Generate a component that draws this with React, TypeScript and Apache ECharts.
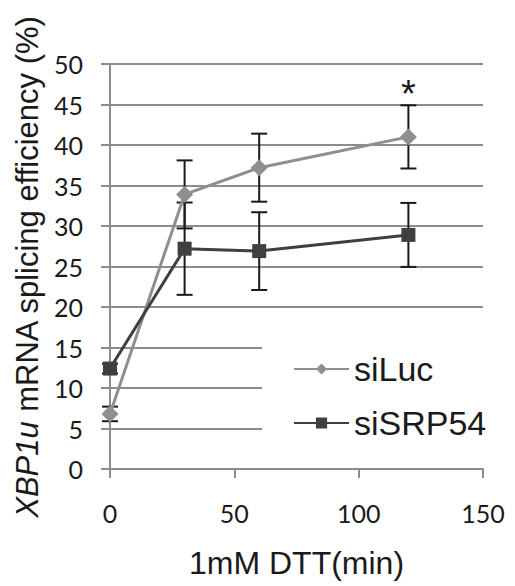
import React, { useEffect, useRef } from "react";
import * as echarts from "echarts";

const timesMin = [0, 30, 60, 120];
const siLucMean = [6.8, 33.9, 37.2, 41.0];
const siLucErr = [0.9, 4.2, 4.2, 3.9];
const siSRPMean = [12.4, 27.2, 26.9, 28.9];
const siSRPErr = [0.6, 5.7, 4.8, 3.95];
const yTicks = [0, 50, 5];
const xTicks = [0, 150, 50];

const AX = "#8c8c8c";
const LUC = "#8f8f8f";
const SRP = "#3f3f3f";

function errSeries(mean: number[], err: number[], name: string) {
  const data = timesMin.map((t, i) => [t, mean[i] - err[i], mean[i] + err[i]]);
  return {
    type: "custom",
    name: name + "_err",
    z: 3,
    silent: true,
    renderItem: (params: any, api: any) => {
      const x = api.value(0);
      const lo = api.coord([x, api.value(1)]);
      const hi = api.coord([x, api.value(2)]);
      const w = 8;
      const st = { stroke: "#1a1a1a", lineWidth: 2 };
      return {
        type: "group",
        children: [
          { type: "line", shape: { x1: lo[0], y1: lo[1], x2: hi[0], y2: hi[1] }, style: st },
          { type: "line", shape: { x1: lo[0] - w, y1: lo[1], x2: lo[0] + w, y2: lo[1] }, style: st },
          { type: "line", shape: { x1: hi[0] - w, y1: hi[1], x2: hi[0] + w, y2: hi[1] }, style: st },
        ],
      };
    },
    encode: { x: 0, y: [1, 2] },
    data,
  };
}

export default function App() {
  const ref = useRef<HTMLDivElement>(null);
  useEffect(() => {
    if (!ref.current) return;
    const chart = echarts.init(ref.current, undefined, { renderer: "svg" });
    chart.setOption({
      animation: false,
      backgroundColor: "#fff",
      grid: { left: 110, right: 32, top: 64, bottom: 117, containLabel: false, outerBoundsMode: "none" },
      xAxis: {
        type: "value",
        min: xTicks[0],
        max: xTicks[1],
        interval: xTicks[2],
        name: "1mM DTT(min)",
        nameLocation: "middle",
        nameGap: 78,
        nameTextStyle: { fontFamily: "Liberation Sans", fontSize: 32, color: "#1a1a1a" },
        axisLine: { show: true, lineStyle: { color: AX, width: 2 } },
        axisTick: { show: true, length: 9, lineStyle: { color: AX, width: 2 } },
        axisLabel: { fontFamily: "Lato", fontSize: 25, color: "#1a1a1a", margin: 31 },
        splitLine: { show: false },
      },
      yAxis: {
        type: "value",
        min: yTicks[0],
        max: yTicks[1],
        interval: yTicks[2],
        name: "{i|XBP1u} mRNA splicing efficiency (%)",
        nameLocation: "middle",
        nameGap: 66,
        nameRotate: 90,
        nameTextStyle: {
          fontFamily: "Liberation Sans",
          fontSize: 31,
          color: "#1a1a1a",
          rich: { i: { fontFamily: "Liberation Sans", fontSize: 31, fontStyle: "italic", color: "#1a1a1a" } },
        },
        axisLine: { show: true, lineStyle: { color: AX, width: 2 } },
        axisTick: { show: true, length: 9, lineStyle: { color: AX, width: 2 } },
        axisLabel: { fontFamily: "Lato", fontSize: 25, color: "#1a1a1a", margin: 27 },
        splitLine: { show: true, lineStyle: { color: AX, width: 2 } },
      },
      legend: {
        orient: "vertical",
        left: 262,
        top: 310,
        padding: [42, 0, 24, 31],
        itemGap: 20,
        itemWidth: 55,
        itemHeight: 14,
        backgroundColor: "#fff",
        textStyle: { fontFamily: "Liberation Sans", fontSize: 34, color: "#1a1a1a" },
        data: ["siLuc", "siSRP54"],
      },
      series: [
        {
          type: "line",
          name: "siLuc",
          data: timesMin.map((t, i) => [t, siLucMean[i]]),
          symbol: "diamond",
          symbolSize: 17,
          lineStyle: { color: LUC, width: 3 },
          itemStyle: { color: LUC },
          z: 4,
          markPoint: {
            symbol: "circle",
            symbolSize: 0,
            data: [{ coord: [120, 47.5] }],
            label: { show: true, formatter: "*", fontFamily: "Liberation Sans", fontSize: 38, color: "#1a1a1a", offset: [0, 10] },
          },
        },
        {
          type: "line",
          name: "siSRP54",
          data: timesMin.map((t, i) => [t, siSRPMean[i]]),
          symbol: "rect",
          symbolSize: 14,
          lineStyle: { color: SRP, width: 3 },
          itemStyle: { color: SRP },
          z: 4,
        },
        errSeries(siLucMean, siLucErr, "siLuc"),
        errSeries(siSRPMean, siSRPErr, "siSRP54"),
      ],
    });
    return () => chart.dispose();
  }, []);
  return <div ref={ref} style={{ width: 515, height: 586, position: "absolute", left: 0, top: 0 }} />;
}
